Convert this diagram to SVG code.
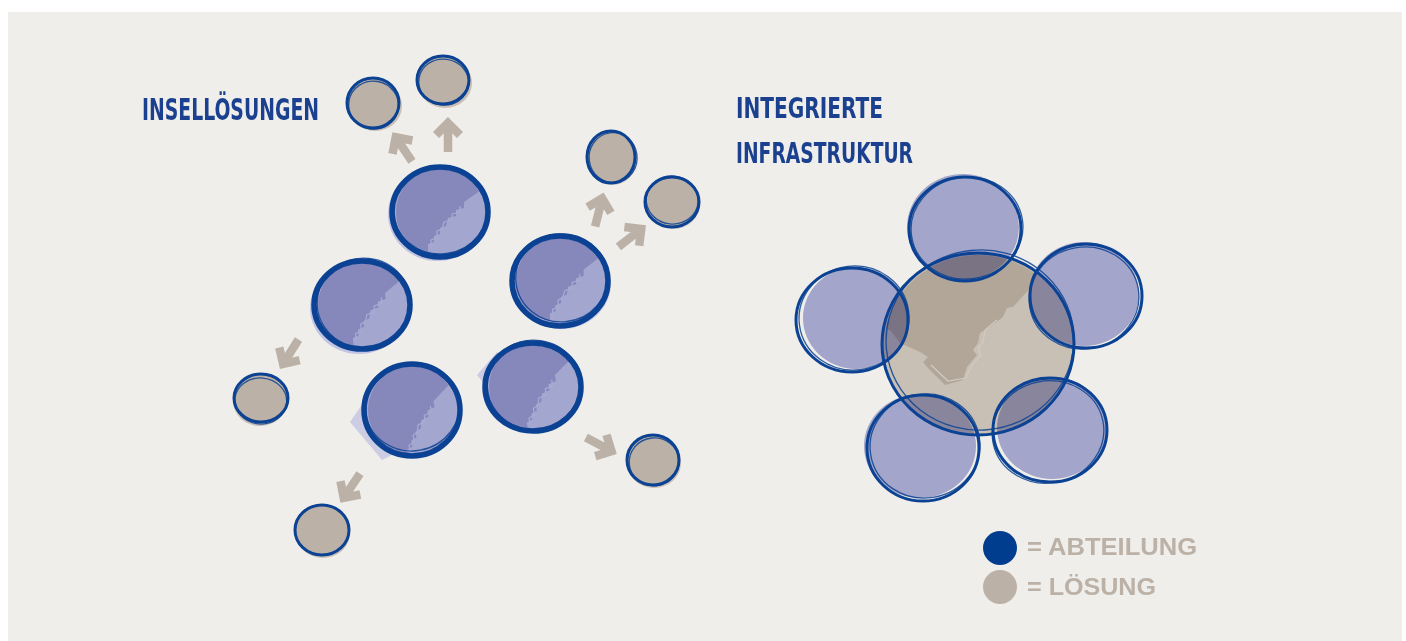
<svg xmlns="http://www.w3.org/2000/svg" xmlns:xlink="http://www.w3.org/1999/xlink" width="1406" height="641" viewBox="0 0 1406 641">
<style>
.title{font-family:"Liberation Sans Narrow","DejaVu Sans Condensed","Liberation Sans",sans-serif;font-weight:bold;fill:#1b408f;}
.leg{font-family:"Liberation Sans",Arial,sans-serif;font-weight:bold;fill:#bcb1a6;font-size:23.5px;}
.sol{fill:#bcb1a6;}
.solsh{fill:#c9bfb4;}
.ring{fill:none;stroke:#0b4293;}
.thick{stroke-width:5.5;}
.mid{stroke-width:3;}
.thin{stroke-width:1.3;opacity:0.85;}
.dept{fill:#a3a6cf;}
.ghost{fill:#c3c4e2;}
.sec{fill:#8687bb;}
.secline{fill:none;stroke:#a9abd3;stroke-width:1.2;}
.sat{fill:#aeb1dc;mix-blend-mode:multiply;}
.arr{fill:none;stroke:#bcb1a6;stroke-width:8.5;stroke-linejoin:miter;}
</style>
<defs>
<clipPath id="inner"><circle cx="0" cy="0" r="44"/></clipPath>
<clipPath id="core"><ellipse cx="978" cy="344" rx="93" ry="89"/></clipPath>
<path id="arrow" d="M0,16 L0,-13 M-12,-1 L0,-13 L12,-1"/>
<path id="secshape" d="M44,-24 L24,-10 L24,-4 L16,-2 L16,4 L8,6 L6,14 L0,16 L0,22 L-6,24 L-6,30 L-12,32 L-12,40 L-28,33 L-40,20 L-60,20 L-60,-60 L50,-60 Z"/>
<path id="secedge" d="M20,-6 L20,0 L12,2 L12,8 L4,10 L2,17 L-3,19 L-3,26 L-9,28 L-9,36"/>
</defs>
<rect x="0" y="0" width="1406" height="641" fill="#ffffff"/>
<rect x="8" y="12" width="1394" height="629" fill="#efeeea"/>

<g id="title-insel"><text class="title" x="142" y="120" font-size="31" textLength="177" lengthAdjust="spacingAndGlyphs">INSELLÖSUNGEN</text></g>
<g id="title-integriert">
<text class="title" x="736" y="118" font-size="29" textLength="147" lengthAdjust="spacingAndGlyphs">INTEGRIERTE</text>
<text class="title" x="736" y="163" font-size="29" textLength="177" lengthAdjust="spacingAndGlyphs">INFRASTRUKTUR</text>
</g>

<!-- left: departments -->
<g id="dept1" transform="translate(440,212)">
<ellipse class="ghost" cx="-3" cy="2" rx="49" ry="47"/>
<ellipse class="dept" cx="0" cy="0" rx="47" ry="45"/>
<g clip-path="url(#inner)"><use href="#secshape" class="sec"/><use href="#secedge" class="secline"/></g>
<ellipse class="ring thick" cx="0" cy="0" rx="48" ry="45"/>
<ellipse class="ring thin" cx="1" cy="-2" rx="47" ry="44" transform="rotate(-8)"/>
</g>
<g id="dept2" transform="translate(362,305)">
<ellipse class="ghost" cx="-3" cy="3" rx="49" ry="46"/>
<ellipse class="dept" cx="0" cy="0" rx="47" ry="44"/>
<g clip-path="url(#inner)"><g transform="rotate(-5)"><use href="#secshape" class="sec"/><use href="#secedge" class="secline"/></g></g>
<ellipse class="ring thick" cx="0" cy="0" rx="48" ry="44"/>
<ellipse class="ring thin" cx="2" cy="-2" rx="47" ry="45" transform="rotate(6)"/>
</g>
<g id="dept3" transform="translate(412,410)">
<path class="ghost" d="M-62,12 L-40,-20 L-20,-10 L-10,40 L-30,50 Z" opacity="0.8"/>
<ellipse class="dept" cx="0" cy="0" rx="47" ry="46"/>
<g clip-path="url(#inner)"><g transform="translate(0,6) rotate(-12)"><use href="#secshape" class="sec"/><use href="#secedge" class="secline"/></g></g>
<ellipse class="ring thick" cx="0" cy="0" rx="48" ry="46"/>
<ellipse class="ring thin" cx="1" cy="-3" rx="47" ry="44" transform="rotate(-10)"/>
</g>
<g id="dept4" transform="translate(560,281)">
<ellipse class="ghost" cx="2" cy="2" rx="49" ry="46"/>
<ellipse class="dept" cx="0" cy="0" rx="47" ry="44"/>
<g clip-path="url(#inner)"><g transform="rotate(-3)"><use href="#secshape" class="sec"/><use href="#secedge" class="secline"/></g></g>
<ellipse class="ring thick" cx="0" cy="0" rx="48" ry="45"/>
<ellipse class="ring thin" cx="2" cy="-3" rx="46" ry="44" transform="rotate(-5)"/>
</g>
<g id="dept5" transform="translate(533,387)">
<path class="ghost" d="M-56,-12 L-36,-35 L-10,-10 L-30,20 Z" opacity="0.8"/>
<ellipse class="dept" cx="0" cy="0" rx="47" ry="44"/>
<g clip-path="url(#inner)"><g transform="translate(0,2) rotate(-10)"><use href="#secshape" class="sec"/><use href="#secedge" class="secline"/></g></g>
<ellipse class="ring thick" cx="0" cy="0" rx="48" ry="44"/>
<ellipse class="ring thin" cx="1" cy="-2" rx="47" ry="45" transform="rotate(8)"/>
</g>

<!-- left: solutions -->
<g id="sol1" transform="translate(373,103)">
<ellipse class="solsh" cx="2" cy="3" rx="27" ry="25"/>
<ellipse class="sol" cx="0" cy="0" rx="26" ry="25"/>
<ellipse class="ring mid" cx="0" cy="0" rx="26" ry="25"/>
<ellipse class="ring thin" cx="1" cy="2" rx="25" ry="24" transform="rotate(10)"/>
</g>
<g id="sol2" transform="translate(443,80)">
<ellipse class="solsh" cx="2" cy="3" rx="27" ry="25"/>
<ellipse class="sol" cx="0" cy="0" rx="26" ry="24"/>
<ellipse class="ring mid" cx="0" cy="0" rx="26" ry="24"/>
<ellipse class="ring thin" cx="1" cy="2" rx="25" ry="23" transform="rotate(8)"/>
</g>
<g id="sol3" transform="translate(611,157)">
<ellipse class="solsh" cx="1" cy="2" rx="25" ry="26"/>
<ellipse class="sol" cx="0" cy="0" rx="25" ry="26"/>
<ellipse class="ring mid" cx="0" cy="0" rx="24" ry="26"/>
<ellipse class="ring thin" cx="2" cy="1" rx="24" ry="25" transform="rotate(-8)"/>
</g>
<g id="sol4" transform="translate(672,202)">
<ellipse class="solsh" cx="1" cy="2" rx="27" ry="25"/>
<ellipse class="sol" cx="0" cy="0" rx="27" ry="25"/>
<ellipse class="ring mid" cx="0" cy="0" rx="27" ry="25"/>
<ellipse class="ring thin" cx="0" cy="-2" rx="26" ry="24" transform="rotate(6)"/>
</g>
<g id="sol5" transform="translate(261,398)">
<ellipse class="solsh" cx="-1" cy="3" rx="27" ry="25"/>
<ellipse class="sol" cx="0" cy="0" rx="27" ry="25"/>
<ellipse class="ring mid" cx="0" cy="0" rx="27" ry="24"/>
<ellipse class="ring thin" cx="0" cy="3" rx="26" ry="23" transform="rotate(5)"/>
</g>
<g id="sol6" transform="translate(322,530)">
<ellipse class="solsh" cx="1" cy="3" rx="27" ry="25"/>
<ellipse class="sol" cx="0" cy="0" rx="27" ry="25"/>
<ellipse class="ring mid" cx="0" cy="0" rx="27" ry="25"/>
</g>
<g id="sol7" transform="translate(653,460)">
<ellipse class="solsh" cx="1" cy="3" rx="27" ry="25"/>
<ellipse class="sol" cx="0" cy="0" rx="26" ry="25"/>
<ellipse class="ring mid" cx="0" cy="0" rx="26" ry="25"/>
<ellipse class="ring thin" cx="1" cy="2" rx="25" ry="24" transform="rotate(-6)"/>
</g>

<g id="connectors" class="arr">
<use href="#arrow" transform="translate(403,148) rotate(-34)"/>
<use href="#arrow" transform="translate(448,136) rotate(0)"/>
<use href="#arrow" transform="translate(599,211) rotate(14)"/>
<use href="#arrow" transform="translate(631,237) rotate(52)"/>
<use href="#arrow" transform="translate(290,353) rotate(212)"/>
<use href="#arrow" transform="translate(351,487) rotate(214)"/>
<use href="#arrow" transform="translate(600,445) rotate(118)"/>
</g>

<!-- right: integrated infrastructure -->
<g id="core-solution">
<ellipse cx="978" cy="344" rx="95" ry="91" fill="#c9c0b5"/>
<path clip-path="url(#core)" fill="#b2a699" d="M1033,285 L1013,307 L1007,308 L1003,317 L990,327 L980,333 L978,343 L973,350 L977,355 L967,367 L963,380 L945,385 L927,367 L923,362 L928,357 L920,352 L900,343 L890,330 L870,330 L870,240 L1050,240 Z"/>
<path fill="none" stroke="#d3cbc1" stroke-width="1.2" d="M997,320 L985,330 L983,342 L978,348 L981,355 L970,368 L966,378 L948,381 L931,365"/>
</g>
<g id="sat-top"><ellipse class="sat" cx="963" cy="227" rx="56" ry="53"/></g>
<g id="sat-right"><ellipse class="sat" cx="1084" cy="294" rx="55" ry="52"/></g>
<g id="sat-left"><ellipse class="sat" cx="856" cy="318" rx="53" ry="51"/></g>
<g id="sat-botleft"><ellipse class="sat" cx="920" cy="446" rx="56" ry="52"/></g>
<g id="sat-botright"><ellipse class="sat" cx="1052" cy="428" rx="55" ry="51"/></g>
<g id="outlines">
<ellipse class="ring mid" cx="978" cy="344" rx="96" ry="91"/>
<ellipse class="ring thin" cx="980" cy="340" rx="94" ry="90" transform="rotate(-6 980 340)"/>
<ellipse class="ring mid" cx="965" cy="229" rx="56" ry="52"/>
<ellipse class="ring thin" cx="967" cy="228" rx="56" ry="51" transform="rotate(-8 967 228)"/>
<ellipse class="ring mid" cx="1086" cy="296" rx="56" ry="52"/>
<ellipse class="ring thin" cx="1084" cy="298" rx="55" ry="51" transform="rotate(-10 1084 298)"/>
<ellipse class="ring mid" cx="852" cy="320" rx="56" ry="52"/>
<ellipse class="ring thin" cx="854" cy="318" rx="55" ry="52" transform="rotate(-7 854 318)"/>
<ellipse class="ring mid" cx="923" cy="448" rx="56" ry="53"/>
<ellipse class="ring thin" cx="925" cy="446" rx="55" ry="52" transform="rotate(-9 925 446)"/>
<ellipse class="ring mid" cx="1050" cy="430" rx="57" ry="52"/>
<ellipse class="ring thin" cx="1048" cy="432" rx="56" ry="51" transform="rotate(-12 1048 432)"/>
</g>

<g id="legend">
<circle cx="1000" cy="548" r="17" fill="#003d8f"/>
<text class="leg" x="1027" y="555" textLength="170" lengthAdjust="spacingAndGlyphs">= ABTEILUNG</text>
<circle cx="1000" cy="587" r="17" fill="#bcb1a6"/>
<text class="leg" x="1027" y="595" textLength="129" lengthAdjust="spacingAndGlyphs">= LÖSUNG</text>
</g>
</svg>
